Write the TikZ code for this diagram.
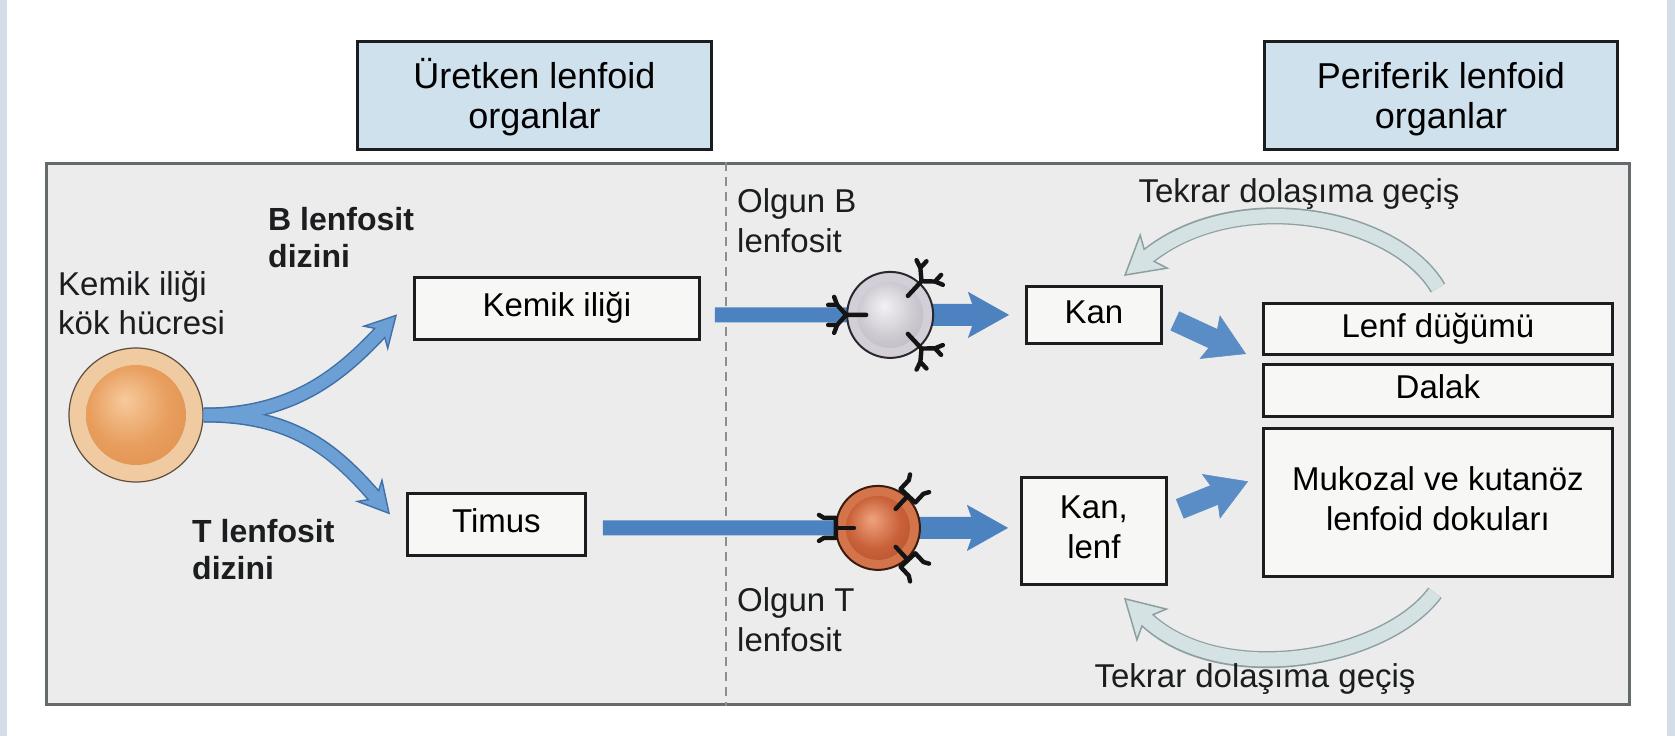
\documentclass[tikz,border=0pt]{standalone}
\usepackage{fontspec}
\setmainfont{Liberation Sans}
\usetikzlibrary{arrows.meta,calc}

% palette
\definecolor{ink}{HTML}{1B1D1F}
\definecolor{hdrfill}{HTML}{CFE1EC}
\definecolor{panel}{HTML}{EBECEB}
\definecolor{framegrey}{HTML}{656B6D}
\definecolor{boxfill}{HTML}{F7F7F6}
\definecolor{edgeblue}{HTML}{D3DEE8}
\definecolor{flowblue}{HTML}{4C82C0}
\definecolor{forkblue}{HTML}{6C9FD3}
\definecolor{forkedge}{HTML}{3F70A8}
\definecolor{smallblue}{HTML}{5A8CC6}
\definecolor{recfill}{HTML}{D5E2E4}
\definecolor{recedge}{HTML}{8E9FA2}
\definecolor{divgrey}{HTML}{8A8F91}
\definecolor{stemhi}{HTML}{F7CA9C}
\definecolor{stemmid}{HTML}{E89E5E}
\definecolor{stemlo}{HTML}{DA8746}
\definecolor{ringin}{HTML}{F0CAA1}
\definecolor{ringout}{HTML}{DDA878}
\definecolor{stemedge}{HTML}{5E4C40}
\definecolor{bhi}{HTML}{F3F1F4}
\definecolor{bmid}{HTML}{CFCBD3}
\definecolor{blo}{HTML}{A7A2AD}
\definecolor{bringin}{HTML}{D3CED7}
\definecolor{bringout}{HTML}{B3ADB9}
\definecolor{bedge}{HTML}{2A272D}
\definecolor{thi}{HTML}{EFA37E}
\definecolor{tmid}{HTML}{C9623B}
\definecolor{tlo}{HTML}{A5421E}
\definecolor{tringin}{HTML}{D4744A}
\definecolor{tringout}{HTML}{B65027}
\definecolor{tedge}{HTML}{3B1B0F}

% cell shadings
\pgfdeclareradialshading{stemcore}{\pgfpoint{-6bp}{8bp}}{color(0bp)=(stemhi); color(20bp)=(stemmid); color(50bp)=(stemlo)}
\pgfdeclareradialshading{stemring}{\pgfpoint{0bp}{0bp}}{color(0bp)=(ringin); color(38bp)=(ringin); color(50bp)=(ringout)}
\pgfdeclareradialshading{bcore}{\pgfpoint{-5bp}{7bp}}{color(0bp)=(bhi); color(20bp)=(bmid); color(50bp)=(blo)}
\pgfdeclareradialshading{bring}{\pgfpoint{0bp}{0bp}}{color(0bp)=(bringin); color(38bp)=(bringin); color(50bp)=(bringout)}
\pgfdeclareradialshading{tcore}{\pgfpoint{-5bp}{7bp}}{color(0bp)=(thi); color(20bp)=(tmid); color(50bp)=(tlo)}
\pgfdeclareradialshading{tring}{\pgfpoint{0bp}{0bp}}{color(0bp)=(tringin); color(38bp)=(tringin); color(50bp)=(tringout)}

% two-line label whose baseline is the first line
\newcommand{\lines}[3]{\begin{tabular}[t]{@{}#1@{}}#2\\#3\end{tabular}}

% antibody (B cell receptor): scope origin = cell centre
\newcommand{\antib}[3]{%
  \begin{scope}[shift={(#1)}, rotate=#2]
    \draw[rcp] (#3-10,0) -- (#3+10,0) -- (#3+19,10) -- (#3+28,10);
    \draw[rcp] (#3+10,0) -- (#3+19,-10) -- (#3+28,-10);
    \draw[rcp] (#3+19,10) -- (#3+22,18);
    \draw[rcp] (#3+19,-10) -- (#3+22,-18);
  \end{scope}}
% T cell receptor
\newcommand{\tcr}[3]{%
  \begin{scope}[shift={(#1)}, rotate=#2]
    \draw[rcp] (#3-10,0) -- (#3+8,0);
    \draw[rcp] (#3+25,13) -- (#3+20,10) -- (#3+8,10) -- (#3+8,-10) -- (#3+20,-10) -- (#3+25,-13);
  \end{scope}}

\begin{document}
\begin{tikzpicture}[x=1pt, y=-1pt,
  font=\fontsize{33}{40}\selectfont,
  hdr/.style={draw=ink, line width=3pt, fill=hdrfill, minimum width=354pt,
    minimum height=108pt, anchor=north west, inner sep=0pt,
    font=\fontsize{36}{40}\selectfont, text height=36pt, text depth=50pt},
  organ/.style={draw=ink, line width=2.8pt, fill=boxfill, anchor=north west,
    inner sep=0pt, text height=24pt, text depth=7pt},
  organtwo/.style={draw=ink, line width=2.8pt, fill=boxfill, anchor=north west,
    inner sep=0pt},
  frame/.style={draw=framegrey, line width=2.5pt, fill=panel, anchor=north west,
    minimum width=1583pt, minimum height=541pt, inner sep=0pt},
  divider/.style={draw=divgrey, line width=1.5pt, dash pattern=on 9pt off 6pt},
  lbl/.style={anchor=base west, inner sep=0pt, text=ink,
    font=\fontsize{33}{39}\selectfont},
  blbl/.style={anchor=base west, inner sep=0pt, text=ink,
    font=\fontsize{32}{37}\selectfont\bfseries},
  note/.style={anchor=base, inner sep=0pt, text=ink},
  rcp/.style={draw=black!92, line width=4.4pt, line cap=round, line join=round},
  flow/.style={draw=flowblue, line width=#1},
  flowhead/.style={-{Stealth[length=41pt, width=46pt, inset=8pt, line width=0.5pt]}},
  small/.style={draw=smallblue, line width=21pt,
    -{Stealth[length=40pt, width=48pt, inset=6pt, line width=0.5pt]}},
  forkout/.style={draw=forkedge, line width=15pt,
    -{Stealth[length=33pt, width=36pt, inset=11pt, line width=1.4pt, fill=forkblue]}},
  forkin/.style={draw=forkblue, line width=12pt, shorten >=20pt},
  recout/.style={draw=recedge, line width=17pt,
    -{Stealth[length=40pt, width=46pt, inset=10pt, line width=1.5pt, fill=recfill]}},
  recin/.style={draw=recfill, line width=14pt, shorten >=28pt},
  ring/.style={circle, inner sep=0pt, shade, line width=#1},
  core/.style={circle, inner sep=0pt, shade}
]
\useasboundingbox (0,0) rectangle (1675,736);
\fill[white] (0,0) rectangle (1675,736);
\fill[edgeblue] (0,0) rectangle (7,736);
\fill[edgeblue] (1667,0) rectangle (1675,736);

% headings
\node[hdr] (hdrA) at (356,40) {\lines{c}{Üretken lenfoid}{organlar}};
\node[hdr, minimum width=353pt] (hdrB) at (1263,40) {\lines{c}{Periferik lenfoid}{organlar}};

% panel and divider
\node[frame] (frame) at (45,162) {};
\coordinate (divx) at (726,400);
\draw[divider] (divx |- frame.north) -- (divx |- frame.south);

% organ boxes
\node[organ, minimum width=285pt, minimum height=62pt] (kem) at (413,276) {Kemik iliği};
\node[organ, minimum width=178pt, minimum height=62pt] (tim) at (406,492) {Timus};
\node[organ, minimum width=135pt, minimum height=57pt] (kan) at (1025,285) {Kan};
\node[organtwo, minimum width=145pt, minimum height=107pt] (kanlenf) at (1020,476) {\lines{c}{Kan,}{lenf}};
\node[organ, minimum width=349pt, minimum height=51pt] (lenf) at (1262,302) {Lenf düğümü};
\node[organ, minimum width=349pt, minimum height=52pt] (dalak) at (1262,363) {Dalak};
\node[organtwo, minimum width=349pt, minimum height=148pt] (muk) at (1262,427) {\lines{c}{Mukozal ve kutanöz}{lenfoid dokuları}};

% stem cell
\node[ring=1.2pt, draw=stemedge, shading=stemring, minimum size=134pt] (stem) at (136,415) {};
\node[core, shading=stemcore, minimum size=100pt] (stemcore) at (stem.center) {};

% branching into the two lineages
\coordinate (ktip) at ($(kem.west)+(-16,6)$);
\coordinate (ttipA) at ($(tim.west)+(-16,-10)$);
\draw[forkout] (stem.east) .. controls (290,415) and (338,378) .. (ktip);
\draw[forkout] (stem.east) .. controls (290,415) and (332,447) .. (ttipA);
\draw[forkin] (stem.east) .. controls (290,415) and (338,378) .. (ktip);
\draw[forkin] (stem.east) .. controls (290,415) and (332,447) .. (ttipA);

% labels on the left
\node[lbl] (stemlbl) at (58,295) {\lines{l}{Kemik iliği}{kök hücresi}};
\node[blbl] (blin) at (268,230) {\lines{l}{B lenfosit}{dizini}};
\node[blbl] (tlin) at (192,542) {\lines{l}{T lenfosit}{dizini}};
\node[lbl, font=\fontsize{33}{40}\selectfont] (olgB) at (737,212) {\lines{l}{Olgun B}{lenfosit}};
\node[lbl, font=\fontsize{33}{40}\selectfont] (olgT) at (737,611) {\lines{l}{Olgun T}{lenfosit}};

% mature B lymphocyte leaving the bone marrow
\coordinate (btip) at ($(kan.west)+(-16,0)$);
\coordinate (bstart) at ($(kem.east |- btip)+(14,0)$);
\coordinate (bpos) at ($(bstart)!0.596!(btip)$);
\draw[flow=15pt] (bstart) -- (bpos);
\draw[flow=22pt, flowhead] (bpos) -- (btip);
\node[ring=2pt, draw=bedge, shading=bring, minimum size=86pt] (bcell) at (bpos) {};
\node[core, shading=bcore, minimum size=66pt] (bcore) at (bcell.center) {};
\antib{bcell.center}{180}{34}
\antib{bcell.center}{47}{36}
\antib{bcell.center}{-47}{36}

% mature T lymphocyte leaving the thymus
\coordinate (ttip) at ($(kanlenf.west)+(-12,-3)$);
\coordinate (tstart) at ($(tim.east |- ttip)+(16,0)$);
\coordinate (tpos) at ($(tstart)!0.679!(ttip)$);
\draw[flow=15pt] (tstart) -- (tpos);
\draw[flow=22pt, flowhead] (tpos) -- (ttip);
\node[ring=2pt, draw=tedge, shading=tring, minimum size=84pt] (tcell) at (tpos) {};
\node[core, shading=tcore, minimum size=64pt] (tcore) at (tcell.center) {};
\tcr{tcell.center}{180}{34}
\tcr{tcell.center}{47}{36}
\tcr{tcell.center}{-47}{36}

% into the peripheral organs
\coordinate (kanout) at ($(kan.east)+(12,6)$);
\coordinate (lenfin) at ($(lenf.west)+(-16,25)$);
\draw[small] (kanout) -- (lenfin);
\coordinate (klout) at ($(kanlenf.east)+(12,-22)$);
\coordinate (mukin) at ($(muk.west)+(-14,-21)$);
\draw[small] (klout) -- (mukin);

% recirculation
\coordinate (rtA) at ($(lenf.north)+(0,-14)$);
\coordinate (rhA) at ($(kan.north)+(30,-9)$);
\draw[recout] (rtA) .. controls (1395,215) and (1235,185) .. (rhA);
\draw[recin] (rtA) .. controls (1395,215) and (1235,185) .. (rhA);
\coordinate (rtB) at ($(muk.south)+(-3,15)$);
\coordinate (rhB) at ($(kanlenf.south)+(30,12)$);
\draw[recout] (rtB) .. controls (1385,660) and (1220,690) .. (rhB);
\draw[recin] (rtB) .. controls (1385,660) and (1220,690) .. (rhB);
\node[note] (recA) at (1299,202) {Tekrar dolaşıma geçiş};
\node[note] (recB) at (1255,687) {Tekrar dolaşıma geçiş};
\end{tikzpicture}
\end{document}
